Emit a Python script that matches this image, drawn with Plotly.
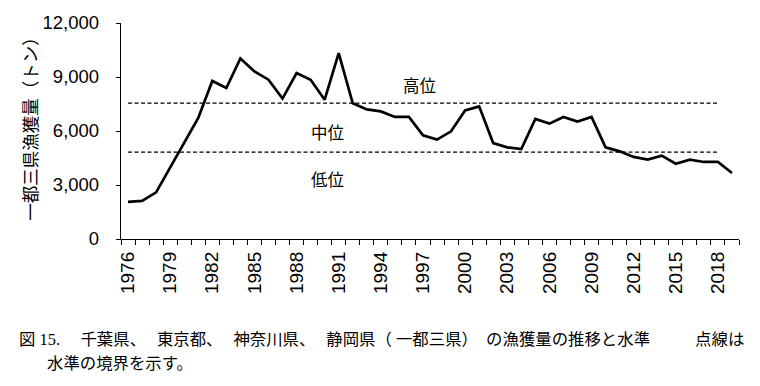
import plotly.graph_objects as go

years = list(range(1976, 2020))
catch = [2060, 2120, 2590, 3950, 5350, 6720, 8780, 8390, 10030, 9310,
         8850, 7800, 9220, 8850, 7740, 10330, 7540, 7200, 7090, 6780,
         6780, 5760, 5520, 5980, 7140, 7370, 5330, 5090, 5000, 6670,
         6410, 6780, 6530, 6780, 5090, 4870, 4560, 4410, 4630, 4180,
         4410, 4280, 4280, 3670]
high_boundary = 7550
low_boundary = 4830
boundary_years = list(range(1976, 2019))
tick_years = years[::3]
tick_labels = [str(y) for y in tick_years]
y_ticks = [0, 3000, 6000, 9000, 12000]
level_labels = ["高位", "中位", "低位"]
y_title = "一都三県漁獲量（トン）"
caption1 = ("図 15.\u3000\u2005千葉県、\u2002\u2006東京都、\u2002\u2006神奈川県、\u2002\u2006静岡県（\u2005一都三県）"
            "\u3000の漁獲量の推移と水準\u3000\u3000\u2002\u2005点線は")
caption2 = "水準の境界を示す。"

fig = go.Figure()
dash = "4px,2.5px"
fig.add_trace(go.Scatter(x=boundary_years, y=[high_boundary] * len(boundary_years),
                         mode="lines", line=dict(color="black", width=1.3, dash=dash),
                         hoverinfo="skip", showlegend=False))
fig.add_trace(go.Scatter(x=boundary_years, y=[low_boundary] * len(boundary_years),
                         mode="lines", line=dict(color="black", width=1.3, dash=dash),
                         hoverinfo="skip", showlegend=False))
fig.add_trace(go.Scatter(x=years, y=catch, mode="lines",
                         line=dict(color="black", width=2.7), showlegend=False))

sans = "Liberation Sans, Arial, sans-serif"
cjk = "Noto Sans CJK JP"

fig.update_layout(
    width=760, height=386,
    margin=dict(l=121, r=21, t=23, b=147),
    paper_bgcolor="white", plot_bgcolor="white",
    xaxis=dict(range=[1975.5, 2019.5], tickmode="array", tickvals=tick_years,
               ticktext=tick_labels, tickangle=-90, ticks="", showgrid=False,
               zeroline=False, showline=True, linecolor="black", linewidth=1.3,
               tickfont=dict(family=sans, size=19, color="black"), ticklabelstandoff=4,
               minor=dict(tickmode="array", tickvals=[y - 0.5 for y in years] + [years[-1] + 0.5],
                          ticks="outside", ticklen=5, tickwidth=1.3, tickcolor="black",
                          showgrid=False)),
    yaxis=dict(range=[0, 12000], tickmode="array", tickvals=y_ticks,
               tickformat=",", ticks="outside", ticklen=4, tickwidth=1.3,
               tickcolor="black", showgrid=False, zeroline=False, showline=True,
               linecolor="black", linewidth=1.3,
               tickfont=dict(family=sans, size=18.5, color="black"),
               ticklabelstandoff=13),
)

fig.add_annotation(x=(30 - 121) / 618, y=(239.3 - 125) / 216, xref="paper", yref="paper",
                   text=y_title, textangle=-90, showarrow=False,
                   font=dict(family=cjk, size=17.5, color="black"),
                   xanchor="center", yanchor="middle")

for txt, xv, yv in zip(level_labels, [1996.72, 1990.2, 1990.2], [8573, 5961, 3350]):
    fig.add_annotation(x=xv, y=yv, xref="x", yref="y", text=txt, showarrow=False,
                       font=dict(family=cjk, size=16.5, color="black"),
                       xanchor="center", yanchor="middle")

cap_font = dict(family="Liberation Serif, " + cjk + ", serif", size=16.4, color="black")
fig.add_annotation(x=(16.7 - 121) / 618, y=(239.3 - 340) / 216, xref="paper", yref="paper",
                   text=caption1, showarrow=False, font=cap_font,
                   xanchor="left", yanchor="middle", align="left")
fig.add_annotation(x=(45 - 121) / 618, y=(239.3 - 364) / 216, xref="paper", yref="paper",
                   text=caption2, showarrow=False, font=cap_font,
                   xanchor="left", yanchor="middle", align="left")

fig.write_html("out.html", config={"displayModeBar": False},
               post_script="document.body.style.margin='0';")
